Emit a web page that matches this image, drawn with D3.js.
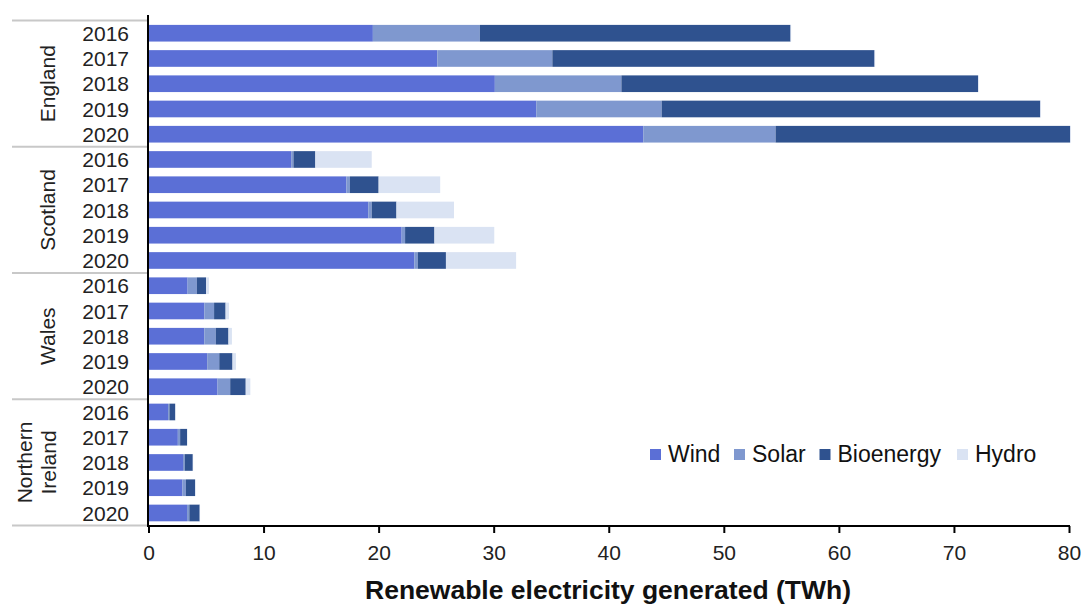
<!DOCTYPE html>
<html>
<head>
<meta charset="utf-8">
<script src="https://cdn.jsdelivr.net/npm/d3@7"></script>
<style>
  html, body { margin: 0; padding: 0; background: #fff; }
  svg { display: block; font-family: "Liberation Sans", Arial, sans-serif; }
</style>
</head>
<body>
<svg id="chart" width="1084" height="605"></svg>
<script>
// ---- data ----
const regions = ["England", "Scotland", "Wales", "Northern Ireland"];
const years = ["2016", "2017", "2018", "2019", "2020"];
const seriesNames = ["Wind", "Solar", "Bioenergy", "Hydro"];
const seriesColors = ["#5b6fd6", "#7f98cf", "#2f528f", "#dae3f3"];

const englandWind  = [19.5, 25.1, 30.1, 33.7, 43.0];
const englandSolar = [9.3, 10.0, 11.0, 10.9, 11.5];
const englandBio   = [27.0, 28.0, 31.0, 32.9, 25.6];
const englandHydro = [0.05, 0.05, 0.05, 0.05, 0.05];

const scotlandWind  = [12.4, 17.2, 19.1, 22.0, 23.1];
const scotlandSolar = [0.2, 0.3, 0.3, 0.3, 0.3];
const scotlandBio   = [1.9, 2.5, 2.15, 2.55, 2.45];
const scotlandHydro = [4.9, 5.35, 5.0, 5.2, 6.1];

const walesWind  = [3.4, 4.85, 4.85, 5.1, 6.0];
const walesSolar = [0.8, 0.85, 1.0, 1.05, 1.1];
const walesBio   = [0.8, 1.0, 1.1, 1.15, 1.35];
const walesHydro = [0.25, 0.3, 0.3, 0.3, 0.4];

const niWind  = [1.7, 2.55, 3.0, 2.95, 3.35];
const niSolar = [0.12, 0.2, 0.15, 0.3, 0.2];
const niBio   = [0.5, 0.6, 0.7, 0.8, 0.9];
const niHydro = [0.03, 0.03, 0.03, 0.03, 0.03];

const xTicks = [0, 10, 20, 30, 40, 50, 60, 70, 80];
const xTitle = "Renewable electricity generated (TWh)";

// ---- build table ----
const regionSeries = {
  "England": [englandWind, englandSolar, englandBio, englandHydro],
  "Scotland": [scotlandWind, scotlandSolar, scotlandBio, scotlandHydro],
  "Wales": [walesWind, walesSolar, walesBio, walesHydro],
  "Northern Ireland": [niWind, niSolar, niBio, niHydro]
};
const rows = [];
regions.forEach(r => {
  years.forEach((y, i) => {
    const row = { key: r + "|" + y, region: r, year: y };
    seriesNames.forEach((s, si) => { row[s] = regionSeries[r][si][i]; });
    rows.push(row);
  });
});

const svg = d3.select("#chart");
const x = d3.scaleLinear().domain([0, 80]).range([148.5, 1069]);
const y = d3.scaleBand().domain(rows.map(d => d.key)).range([20.6, 525.6]).paddingInner(0.34).paddingOuter(0.17);

const stack = d3.stack().keys(seriesNames);
const stacked = stack(rows);
const color = d3.scaleOrdinal().domain(seriesNames).range(seriesColors);

// bars
svg.append("g").selectAll("g").data(stacked).join("g")
  .attr("fill", d => color(d.key))
  .selectAll("rect").data(d => d).join("rect")
  .attr("x", d => x(d[0]))
  .attr("y", d => y(d.data.key))
  .attr("width", d => Math.max(0, x(d[1]) - x(d[0])))
  .attr("height", y.bandwidth());

// group separator lines
const step = y.step();
const y0 = 20.6;
const sepYs = [0, 5, 10, 15, 20].map(i => y0 + i * step);
svg.append("g").selectAll("line").data(sepYs).join("line")
  .attr("x1", 12).attr("x2", 147)
  .attr("y1", d => d).attr("y2", d => d)
  .attr("stroke", "#c8c8c8").attr("stroke-width", 2);

// year labels
svg.append("g").selectAll("text").data(rows).join("text")
  .attr("x", 129)
  .attr("y", d => y(d.key) + y.bandwidth() / 2)
  .attr("dy", "0.36em")
  .attr("text-anchor", "end")
  .attr("font-size", 21)
  .attr("fill", "#222")
  .text(d => d.year);

// region labels (rotated)
regions.forEach((r, i) => {
  const cy = y0 + (i * 5 + 2.5) * step;
  const lines = r === "Northern Ireland" ? ["Northern", "Ireland"] : [r];
  const t = svg.append("text")
    .attr("transform", `translate(${lines.length === 1 ? 55 : 32},${cy}) rotate(-90)`)
    .attr("text-anchor", "middle")
    .attr("font-size", 21)
    .attr("fill", "#222");
  lines.forEach((ln, li) => {
    t.append("tspan").attr("x", 0).attr("dy", li === 0 ? 0 : 24).text(ln);
  });
});

// x axis
const xAxis = d3.axisBottom(x).tickValues(xTicks).tickSize(7).tickSizeOuter(0).tickPadding(12);
const gx = svg.append("g").attr("transform", "translate(0,526)").call(xAxis);
gx.select(".domain").attr("stroke", "#000").attr("stroke-width", 2).attr("d", `M147,0H1070`);
gx.selectAll(".tick line").attr("stroke", "#000").attr("stroke-width", 2);
gx.selectAll(".tick text").attr("font-size", 21).attr("fill", "#222")
  .attr("font-family", "'Liberation Sans', Arial, sans-serif");

// y axis line
svg.append("line").attr("x1", 148).attr("x2", 148).attr("y1", 15).attr("y2", 527)
  .attr("stroke", "#000").attr("stroke-width", 2);

// x title
svg.append("text")
  .attr("x", 608).attr("y", 599)
  .attr("text-anchor", "middle")
  .attr("font-size", 26.5).attr("font-weight", "bold")
  .attr("fill", "#111")
  .text(xTitle);

// legend
const legendX = [650, 734, 819.5, 957];
const lg = svg.append("g").selectAll("g").data(seriesNames).join("g")
  .attr("transform", (d, i) => `translate(${legendX[i]},449)`);
lg.append("rect").attr("width", 11).attr("height", 11).attr("fill", d => color(d));
lg.append("text").attr("x", 18).attr("y", 12.5)
  .attr("font-size", 23).attr("fill", "#111").text(d => d);
</script>
</body>
</html>
